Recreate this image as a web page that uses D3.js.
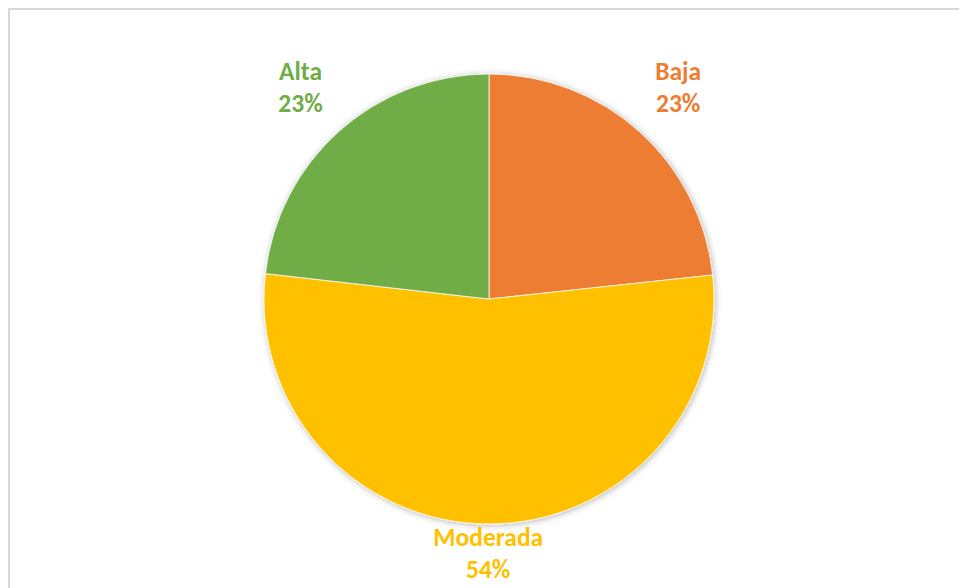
<!DOCTYPE html>
<html>
<head>
<meta charset="utf-8">
<script src="https://cdn.jsdelivr.net/npm/d3@7"></script>
<style>
  html, body { margin: 0; padding: 0; background: #fff; overflow: hidden; }
</style>
</head>
<body>
<div id="chart"></div>
<script>
// ---------------------------------------------------
// DATA
// ---------------------------------------------------
const categories = ["Baja", "Moderada", "Alta"];
const values = [23.3, 53.5, 23.2];
const colors = ["#ED7D31", "#FFC000", "#70AD47"];

const width = 959;
const height = 588;
const cx = 489;
const cy = 299;
const radius = 225;

const svg = d3.select("#chart")
  .append("svg")
  .attr("width", width)
  .attr("height", height);

// chart frame (right / bottom edges fall outside the picture)
svg.append("rect")
  .attr("x", 9)
  .attr("y", 9)
  .attr("width", width + 20)
  .attr("height", height + 20)
  .attr("fill", "#fff")
  .attr("stroke", "#d9d9d9")
  .attr("stroke-width", 2);

// soft shadow round the pie
const defs = svg.append("defs");
const filter = defs.append("filter")
  .attr("id", "shadow")
  .attr("x", "-10%").attr("y", "-10%")
  .attr("width", "120%").attr("height", "120%");
filter.append("feDropShadow")
  .attr("dx", 1)
  .attr("dy", 1)
  .attr("stdDeviation", 3)
  .attr("flood-color", "#000")
  .attr("flood-opacity", 0.3);

const data = categories.map((c, i) => ({ name: c, value: values[i], color: colors[i] }));
const total = d3.sum(values);

const pie = d3.pie()
  .sort(null)
  .value(d => d.value);

const arc = d3.arc()
  .innerRadius(0)
  .outerRadius(radius);

const arcs = pie(data);

const g = svg.append("g")
  .attr("transform", `translate(${cx},${cy})`);

g.append("g")
  .attr("filter", "url(#shadow)")
  .selectAll("path")
  .data(arcs)
  .join("path")
  .attr("d", arc)
  .attr("fill", d => d.data.color)
  .attr("stroke", "#fff")
  .attr("stroke-width", 0.75);

// ---------------------------------------------------
// LABELS (outside end, two lines)
// ---------------------------------------------------
g.selectAll(".label")
  .data(arcs)
  .join("text")
  .attr("class", "label")
  .attr("text-anchor", "middle")
  .attr("font-family", "Carlito, Calibri, Lato, sans-serif")
  .attr("font-weight", "bold")
  .attr("font-size", "25.5px")
  .attr("fill", d => d.data.color)
  .each(function(d) {
    const a = (d.startAngle + d.endAngle) / 2;
    const dist = radius + 30 + 42 * Math.abs(Math.sin(a));
    const lx = dist * Math.sin(a);
    const ly = -dist * Math.cos(a);
    const t = d3.select(this);
    t.append("tspan")
      .attr("x", lx)
      .attr("y", ly - 8)
      .text(d.data.name);
    t.append("tspan")
      .attr("x", lx)
      .attr("y", ly + 24)
      .text(Math.round(d.data.value / total * 100) + "%");
  });
</script>
</body>
</html>
